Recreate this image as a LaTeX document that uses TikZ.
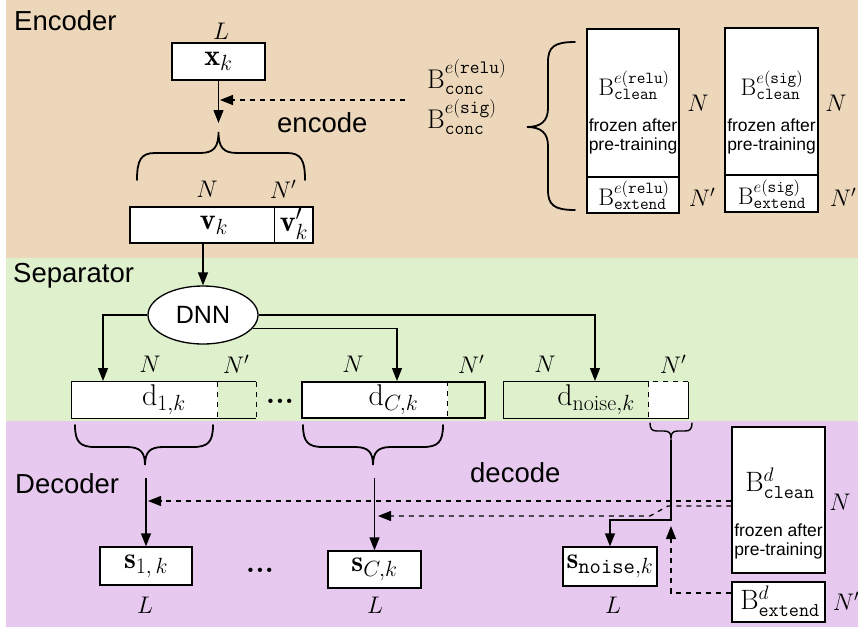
\RequirePackage{fix-cm}
\documentclass[tikz,border=0pt]{standalone}
\usepackage{fontspec}
\setsansfont{Liberation Sans}
\usetikzlibrary{arrows.meta,shapes.geometric,calc}
\definecolor{enccol}{RGB}{237,215,186}
\definecolor{sepcol}{RGB}{223,240,204}
\definecolor{deccol}{RGB}{231,201,240}
\DeclareMathSizes{30}{30}{22}{16}
\newcommand\myfs[1]{\fontsize{#1}{#1}\selectfont}
\tikzset{
  box/.style={draw, line width=1.3pt, fill=white, inner sep=0pt, font={\myfs{30}}},
  part/.style={inner sep=0pt, font={\myfs{30}}},
  lab/.style={inner sep=0pt, font={\myfs{24}}},
  sanslab/.style={inner sep=0pt, font={\sffamily\myfs{27.5}}},
  smalltxt/.style={inner sep=0pt, font={\sffamily\myfs{17.5}}},
  dotstxt/.style={inner sep=0pt, font={\bfseries\myfs{30}}},
  arr/.style={line width=1.3pt, -{Triangle[length=13pt,width=10pt]}},
  darr/.style={arr, dash pattern=on 5pt off 5pt},
  dline/.style={line width=1.3pt, dash pattern=on 5pt off 5pt},
  sline/.style={line width=1.3pt},
  brc/.style={line width=1.8pt, line cap=round}
}
\begin{document}
\begin{tikzpicture}[x=1pt,y=-1pt]
\useasboundingbox (0,0) rectangle (858,627);
\fill[white] (0,0) rectangle (858,627);
\fill[enccol] (6,0) rectangle (858,258);
\fill[sepcol] (6,258) rectangle (858,421);
\fill[deccol] (6,421) rectangle (858,627);

% section titles
\node[sanslab, anchor=base west] (tenc) at (14,30) {Encoder};
\node[sanslab, anchor=base west] (tsep) at (13,282) {Separator};
\node[sanslab, anchor=base west] (tdec) at (15,493) {Decoder};
\node[sanslab, anchor=base west] (tencode) at (277,132) {encode};
\node[sanslab, anchor=base west] (tdecode) at (470,482) {decode};

% ===== Encoder =====
\node[lab] (Ltop) at (221,31) {$L$};
\node[box, minimum width=93pt, minimum height=37pt] (xk) at (218.5,61.5) {$\mathbf{x}_k$};
\coordinate (encend) at (218.5,123);
\draw[arr] (xk.south) -- (encend);
\coordinate (encsrc) at (405,100);
\coordinate (encin) at (220,100);
\draw[darr] (encsrc) -- (encin);
% brace (tip up)
\draw[brc] (137,180) .. controls (137,160) and (141,153) .. (155,153) -- (200,153)
  .. controls (214,153) and (218.5,147) .. (218.5,132)
  .. controls (218.5,147) and (223,153) .. (237,153) -- (287,153)
  .. controls (301,153) and (305,160) .. (305,180);
\node[lab] (Nv) at (207,189) {$N$};
\node[lab] (Npv) at (283,189) {$N'$};
\node[box, minimum width=183pt, minimum height=36pt] (v) at (221.5,225) {};
\draw[sline] ($(v.north west)+(145,0)$) -- ($(v.south west)+(145,0)$);
\node[part] (vk) at (214,225) {$\mathbf{v}_k$};
\node[part] (vpk) at (294,224) {$\mathbf{v}'_k$};

% right part of encoder
\node[inner sep=0pt, font={\myfs{27}}, anchor=base west] (bconc1) at (427,88) {$\mathrm{B}^{e(\mathtt{relu})}_{\vphantom{(}\mathtt{conc}}$};
\node[inner sep=0pt, font={\myfs{27}}, anchor=base west] (bconc2) at (427,128) {$\mathrm{B}^{e(\mathtt{sig})}_{\vphantom{(}\mathtt{conc}}$};
\draw[brc] (575,42) .. controls (554,42) and (548,47) .. (548,62) -- (548,108)
  .. controls (548,121) and (541,127) .. (527,127)
  .. controls (541,127) and (548,133) .. (548,146) -- (548,190)
  .. controls (548,205) and (554,210) .. (575,210);

\node[box, minimum width=92pt, minimum height=148pt] (e1top) at (633,103) {};
\node[box, minimum width=92pt, minimum height=36pt] (e1bot) at (633,195) {};
\node[inner sep=0pt, font={\myfs{24}}] (e1lab) at (634,85) {$\mathrm{B}^{e(\mathtt{relu})}_{\mathtt{clean}}$};
\node[smalltxt] (e1f) at (633,125) {frozen after};
\node[smalltxt] (e1p) at (633,146) {pre-training};
\node[inner sep=0pt, font={\myfs{24}}] (e1ext) at (634,195) {$\mathrm{B}^{e(\mathtt{relu})}_{\mathtt{extend}}$};
\node[lab] (e1N) at (698,103) {$N$};
\node[lab] (e1Np) at (702,197) {$N'$};

\node[box, minimum width=93pt, minimum height=147pt] (e2top) at (771.5,101.5) {};
\node[box, minimum width=93pt, minimum height=37pt] (e2bot) at (771.5,193.5) {};
\node[inner sep=0pt, font={\myfs{24}}] (e2lab) at (772,85) {$\mathrm{B}^{e(\mathtt{sig})}_{\mathtt{clean}}$};
\node[smalltxt] (e2f) at (771.5,125) {frozen after};
\node[smalltxt] (e2p) at (771.5,146) {pre-training};
\node[inner sep=0pt, font={\myfs{24}}] (e2ext) at (772,194) {$\mathrm{B}^{e(\mathtt{sig})}_{\mathtt{extend}}$};
\node[lab] (e2N) at (836,103) {$N$};
\node[lab] (e2Np) at (843,197) {$N'$};

% ===== Separator =====
\node[ellipse, draw, line width=1.3pt, fill=white, minimum width=110pt, minimum height=58pt, inner sep=0pt, font={\sffamily\myfs{25}}] (dnn) at (203,315) {DNN};
\coordinate (vout) at (203,243);
\draw[arr] (vout) -- (dnn.north);

\coordinate (d1in) at (103,381);
\coordinate (dCin) at (397,381);
\coordinate (dnin) at (595,381);
\draw[arr] (dnn.west) -| (d1in);
\draw[arr] (dnn.east) -| (dnin);
\draw[arr] (dnn.-15) -| (dCin);

\node[lab] (N1) at (150,364) {$N$};
\node[lab] (Np1) at (236,364) {$N'$};
\node[lab] (NC) at (353,364) {$N$};
\node[lab] (NpC) at (471,364) {$N'$};
\node[lab] (Nn) at (545,364) {$N$};
\node[lab] (Npn) at (673,364) {$N'$};

% d_1
\fill[white] (72,382) rectangle (218,418);
\node[part, minimum width=184pt, minimum height=36pt] (d1) at (164,400) {$\mathrm{d}_{1,k}$};
\draw[sline] (d1.north east) -- (d1.north west) -- (d1.south west) -- (d1.south east);
\draw[dline] (d1.north east) -- (d1.south east);
\draw[dline] ($(d1.north west)+(146,0)$) -- ($(d1.south west)+(146,0)$);
% dots
\node[dotstxt] (dots1) at (280,401) {...};
% d_C
\fill[white] (302,382) rectangle (448,418);
\node[part, minimum width=183pt, minimum height=36pt, draw, line width=1.3pt] (dC) at (393.5,400) {$\mathrm{d}_{C,k}$};
\draw[dline] ($(dC.north west)+(146,0)$) -- ($(dC.south west)+(146,0)$);
% d_noise
\fill[white] (649,382) rectangle (688,418);
\node[part, minimum width=184pt, minimum height=36pt] (dn) at (596,400) {$\mathrm{d}_{\mathrm{noise},k}$};
\draw[sline] ($(dn.north west)+(145,0)$) -- (dn.north west) -- (dn.south west) -- (dn.south east) -- (dn.north east);
\draw[dline] (dn.north east) -- ($(dn.north west)+(145,0)$) -- ($(dn.south west)+(145,0)$);

% ===== Decoder =====
\draw[brc] (75,425) .. controls (75,442) and (80,447) .. (95,447) -- (127,447)
  .. controls (140,447) and (145,452) .. (145,465)
  .. controls (145,452) and (150,447) .. (163,447) -- (193,447)
  .. controls (208,447) and (213,442) .. (213,425);
\draw[brc] (303,425) .. controls (303,442) and (308,447) .. (323,447) -- (355,447)
  .. controls (368,447) and (373,452) .. (373,465)
  .. controls (373,452) and (378,447) .. (391,447) -- (423,447)
  .. controls (438,447) and (443,442) .. (443,425);
\draw[line width=1.4pt, line cap=round] (650,423) .. controls (650,429) and (652,431) .. (657,431) -- (664,431)
  .. controls (669,431) and (671,433) .. (671,438)
  .. controls (671,433) and (673,431) .. (678,431) -- (685,431)
  .. controls (690,431) and (692,429) .. (692,423);

\node[box, minimum width=92pt, minimum height=38pt] (s1) at (146,566) {$\mathbf{s}_{1,\,k}$};
\node[box, minimum width=93pt, minimum height=37pt] (sC) at (374.5,569.5) {$\mathbf{s}_{C,k}$};
\node[box, minimum width=94pt, minimum height=39pt] (sn) at (610,566.5) {$\mathbf{s}_{\mathtt{noise},k}$};
\node[dotstxt] (dots2) at (260,570) {...};
\node[lab] (L1) at (145,605) {$L$};
\node[lab] (LC) at (375,605) {$L$};
\node[lab] (Ln) at (613,605) {$L$};

\coordinate (dec1) at (146,478);
\coordinate (decC) at (374.5,478);
\coordinate (decn) at (671,440);
\draw[arr] (dec1) -- (s1.north);
\draw[arr] (decC) -- (sC.north);
\draw[arr] (decn) -- (671,520) -| (sn.north);

\node[box, minimum width=93pt, minimum height=146pt] (bdc) at (778.5,500) {};
\node[inner sep=0pt, font={\myfs{28}}] (bdclab) at (780,486) {$\mathrm{B}^{d}_{\vphantom{(}\mathtt{clean}}$};
\node[smalltxt] (bdf) at (778.5,530) {frozen after};
\node[smalltxt] (bdp) at (778.5,551) {pre-training};
\node[box, minimum width=93pt, minimum height=40pt] (bde) at (778.5,602) {};
\node[inner sep=0pt, font={\myfs{28}}] (bdelab) at (780,601) {$\mathrm{B}^{d}_{\mathtt{extend}}$};
\node[lab] (dN) at (840,502) {$N$};
\node[lab] (dNp) at (846,601) {$N'$};

\coordinate (dect1) at (148,501);
\coordinate (dectC) at (378,516);
\coordinate (decup) at (671,526);
\draw[darr] (bdc.west |- 0,501) -- (dect1);
\draw[darr] (bdc.west |- 0,506) -- (668,506) -- (650,516) -- (dectC);
\draw[darr] (bde.west |- 0,593) -| (decup);
\end{tikzpicture}
\end{document}
